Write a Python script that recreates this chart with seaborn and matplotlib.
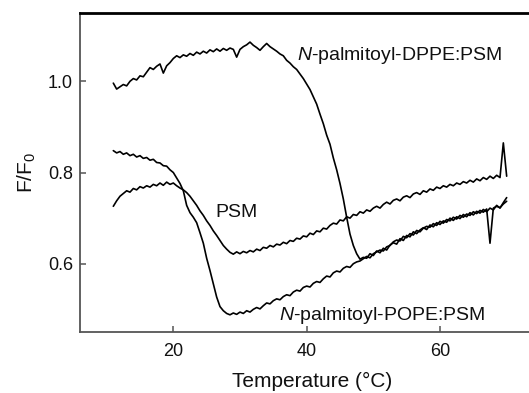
import numpy as np
import pandas as pd
import seaborn as sns
import matplotlib.pyplot as plt

# temperature grid of the traces (deg C), 0.5 degree spacing
temperature = np.arange(11.0, 70.5, 0.5)

# N-palmitoyl-DPPE:PSM
dppe = [
    0.996, 0.983, 0.988, 0.993, 0.990, 1.000, 1.006, 1.003, 1.012, 1.010,
    1.020, 1.030, 1.026, 1.033, 1.038, 1.018, 1.034, 1.041, 1.050, 1.056,
    1.052, 1.058, 1.055, 1.061, 1.057, 1.064, 1.060, 1.066, 1.062, 1.069,
    1.065, 1.071, 1.066, 1.072, 1.068, 1.073, 1.070, 1.053, 1.070, 1.076,
    1.080, 1.086, 1.079, 1.074, 1.068, 1.076, 1.083, 1.076, 1.071, 1.066,
    1.060, 1.056, 1.046, 1.040, 1.032, 1.026, 1.016, 1.006, 0.994, 0.982,
    0.966, 0.950, 0.928, 0.907, 0.882, 0.862, 0.832, 0.806, 0.776, 0.742,
    0.702, 0.665, 0.640, 0.622, 0.610, 0.614, 0.612, 0.622, 0.618, 0.628,
    0.624, 0.634, 0.630, 0.641, 0.646, 0.643, 0.655, 0.651, 0.662, 0.659,
    0.670, 0.666, 0.674, 0.679, 0.675, 0.685, 0.681, 0.690, 0.686, 0.694,
    0.691, 0.700, 0.695, 0.703, 0.699, 0.708, 0.703, 0.712, 0.707, 0.715,
    0.711, 0.719, 0.714, 0.722, 0.718, 0.728, 0.722, 0.734, 0.745,
]

# N-palmitoyl-POPE:PSM
pope = [
    0.848, 0.843, 0.846, 0.840, 0.843, 0.837, 0.840, 0.834, 0.837, 0.831,
    0.833, 0.827, 0.829, 0.822, 0.821, 0.815, 0.814, 0.806, 0.800, 0.788,
    0.776, 0.760, 0.728, 0.712, 0.702, 0.690, 0.668, 0.645, 0.612, 0.585,
    0.556, 0.527, 0.506, 0.497, 0.491, 0.488, 0.492, 0.489, 0.494, 0.491,
    0.497, 0.494, 0.500, 0.504, 0.501, 0.508, 0.514, 0.512, 0.519, 0.523,
    0.521, 0.528, 0.532, 0.530, 0.538, 0.542, 0.540, 0.548, 0.551, 0.549,
    0.557, 0.561, 0.559, 0.567, 0.573, 0.571, 0.580, 0.584, 0.582, 0.590,
    0.594, 0.592, 0.600, 0.604, 0.606, 0.611, 0.616, 0.613, 0.622, 0.626,
    0.630, 0.628, 0.637, 0.640, 0.648, 0.652, 0.650, 0.660, 0.657, 0.666,
    0.663, 0.673, 0.670, 0.678, 0.682, 0.680, 0.688, 0.684, 0.693, 0.689,
    0.697, 0.694, 0.702, 0.698, 0.706, 0.702, 0.709, 0.706, 0.714, 0.710,
    0.717, 0.713, 0.720, 0.645, 0.722, 0.726, 0.723, 0.731, 0.737,
]

# PSM
psm = [
    0.726, 0.738, 0.748, 0.754, 0.760, 0.757, 0.765, 0.762, 0.769, 0.766,
    0.771, 0.768, 0.774, 0.771, 0.777, 0.772, 0.779, 0.774, 0.777, 0.771,
    0.766, 0.762, 0.756, 0.748, 0.738, 0.728, 0.716, 0.706, 0.694, 0.684,
    0.672, 0.662, 0.651, 0.640, 0.632, 0.625, 0.621, 0.626, 0.622, 0.627,
    0.624, 0.629, 0.626, 0.632, 0.629, 0.636, 0.634, 0.640, 0.637, 0.643,
    0.641, 0.647, 0.644, 0.651, 0.649, 0.656, 0.654, 0.661, 0.659, 0.667,
    0.664, 0.672, 0.670, 0.678, 0.676, 0.684, 0.689, 0.687, 0.696, 0.694,
    0.703, 0.700, 0.708, 0.706, 0.714, 0.711, 0.718, 0.715, 0.722, 0.726,
    0.722, 0.730, 0.735, 0.731, 0.739, 0.742, 0.738, 0.746, 0.749, 0.745,
    0.753, 0.756, 0.752, 0.760, 0.757, 0.764, 0.761, 0.768, 0.765, 0.771,
    0.768, 0.774, 0.771, 0.777, 0.774, 0.780, 0.777, 0.783, 0.779, 0.786,
    0.782, 0.789, 0.785, 0.792, 0.787, 0.794, 0.789, 0.865, 0.792,
]

df = pd.DataFrame({"T": temperature, "DPPE": dppe, "POPE": pope, "PSM": psm})

sns.set_style("ticks")
plt.rcParams["font.family"] = ["Liberation Sans", "DejaVu Sans"]
plt.rcParams["mathtext.fontset"] = "custom"
plt.rcParams["mathtext.rm"] = "Liberation Sans"
plt.rcParams["mathtext.it"] = "Liberation Sans:italic"
plt.rcParams["mathtext.default"] = "regular"
plt.rcParams["text.color"] = "#111111"
plt.rcParams["axes.labelcolor"] = "#111111"
plt.rcParams["xtick.labelcolor"] = "#111111"
plt.rcParams["ytick.labelcolor"] = "#111111"

fig = plt.figure(figsize=(5.29, 3.93), dpi=100)
ax = fig.add_axes([0.1512, 0.156, 0.8488, 0.810])

for col in ["DPPE", "POPE", "PSM"]:
    sns.lineplot(data=df, x="T", y=col, ax=ax, color="black", linewidth=1.2)

ax.set_xlim(6.0, 73.35)
ax.set_ylim(0.451, 1.149)
ax.set_xticks([20, 40, 60])
ax.set_yticks([0.6, 0.8, 1.0])
ax.set_yticklabels(["0.6", "0.8", "1.0"])

ax.set_xlabel("Temperature (°C)", fontsize=15, labelpad=9)
ax.xaxis.label.set_x(0.517)
ax.set_ylabel("F/F$_0$", fontsize=15, labelpad=7)
ax.tick_params(direction="in", length=4, width=1.1, color="#555555",
               labelsize=13)
ax.tick_params(axis="x", pad=8)
ax.tick_params(axis="y", pad=5)

ax.spines["right"].set_visible(False)
ax.spines["top"].set_linewidth(2.0)
ax.spines["top"].set_color("black")
for s in ["left", "bottom"]:
    ax.spines[s].set_linewidth(1.3)
    ax.spines[s].set_color("#555555")

ax.text(38.5, 1.057, "$\\mathit{N}$-palmitoyl-DPPE:PSM", fontsize=14,
        va="center", ha="left")
ax.text(26.3, 0.713, "PSM", fontsize=14, va="center", ha="left")
ax.text(35.8, 0.486, "$\\mathit{N}$-palmitoyl-POPE:PSM", fontsize=14,
        va="center", ha="left")

plt.savefig("out.png", dpi=100)
